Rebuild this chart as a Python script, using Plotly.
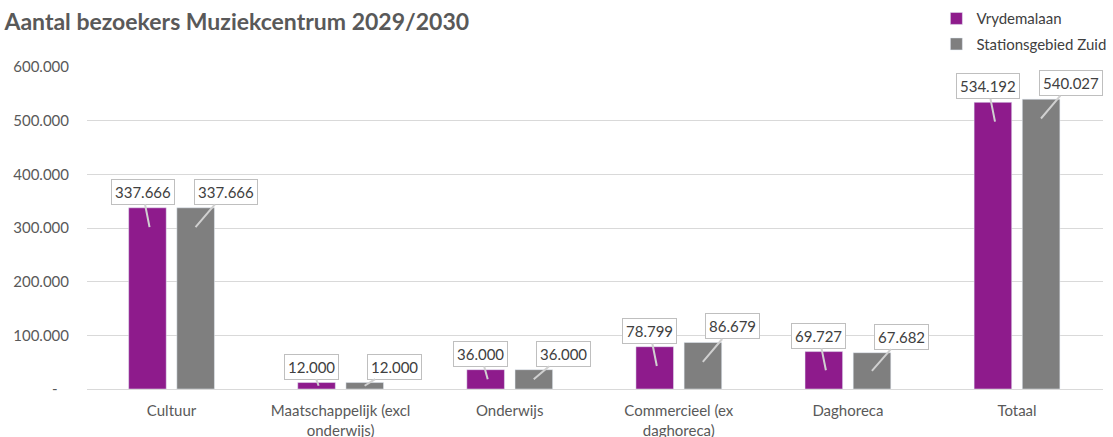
import plotly.graph_objects as go

categories = ["Cultuur", "Maatschappelijk (excl<br>onderwijs)", "Onderwijs",
              "Commercieel (ex<br>daghoreca)", "Daghoreca", "Totaal"]
vrydemalaan = [337666, 12000, 36000, 78799, 69727, 534192]
stationsgebied = [337666, 12000, 36000, 86679, 67682, 540027]
labels_v = ["337.666", "12.000", "36.000", "78.799", "69.727", "534.192"]
labels_s = ["337.666", "12.000", "36.000", "86.679", "67.682", "540.027"]
ytick_vals = [0, 100000, 200000, 300000, 400000, 500000, 600000]
ytick_text = ["-\u00a0\u00a0\u00a0", "100.000", "200.000", "300.000", "400.000", "500.000", "600.000"]

PURPLE = "#8E1B8C"
GRAY = "#7F7F7F"
FONT = "Lato, 'Open Sans', sans-serif"

fig = go.Figure()
fig.add_bar(name="Vrydemalaan", x=categories, y=vrydemalaan, marker_color=PURPLE,
            legendgroup="a")
fig.add_bar(name="Stationsgebied Zuid", x=categories, y=stationsgebied, marker_color=GRAY,
            legendgroup="b")

PLOT_H = 322
YMAX = 600000
px_per = PLOT_H / YMAX

annotations = []
for series_vals, series_labels, xs, ax in [(vrydemalaan, labels_v, -22, -7),
                                            (stationsgebied, labels_s, 24, 30)]:
    for cat, v, lab in zip(categories, series_vals, series_labels):
        tip = max(v - 36000, v * 0.5)
        depth_px = (v - tip) * px_per
        annotations.append(dict(
            x=cat, y=tip, xref="x", yref="y", xshift=xs,
            text=lab, showarrow=True, arrowhead=0, arrowwidth=2,
            arrowcolor="#D0D0D0", ax=ax, ay=-(depth_px + 16),
            bgcolor="white", bordercolor="#BFBFBF", borderwidth=1, borderpad=3,
            font=dict(family=FONT, size=15, color="#404040"),
        ))

fig.update_layout(
    width=1113, height=437,
    margin=dict(l=87, r=10, t=67, b=48, autoexpand=False),
    paper_bgcolor="white", plot_bgcolor="white",
    barmode="group", bargap=0.43, bargroupgap=0.22,
    font=dict(family=FONT, size=15, color="#595959"),
    title=dict(text="<b>Aantal bezoekers Muziekcentrum 2029/2030</b>",
               x=0.004, xanchor="left", y=0.95, yanchor="middle",
               font=dict(family=FONT, size=23, color="#595959")),
    legend=dict(x=0.836, y=0.995, xanchor="left", yanchor="top", yref="container",
                font=dict(family=FONT, size=15, color="#404040"),
                itemwidth=30, tracegroupgap=3, bgcolor="rgba(0,0,0,0)"),
    annotations=annotations,
    showlegend=True,
)
fig.update_yaxes(range=[0, YMAX], tickvals=ytick_vals, ticktext=ytick_text,
                 showgrid=True, gridcolor="#D9D9D9", gridwidth=1, automargin=False,
                 zeroline=False, showline=False, ticks="", ticklabelstandoff=17,
                 tickfont=dict(family=FONT, size=15, color="#595959"))
fig.update_xaxes(showline=True, linecolor="#D9D9D9", ticks="", automargin=False,
                 ticklabelstandoff=8,
                 tickfont=dict(family=FONT, size=15, color="#595959"))

fig.write_html("out.html")
